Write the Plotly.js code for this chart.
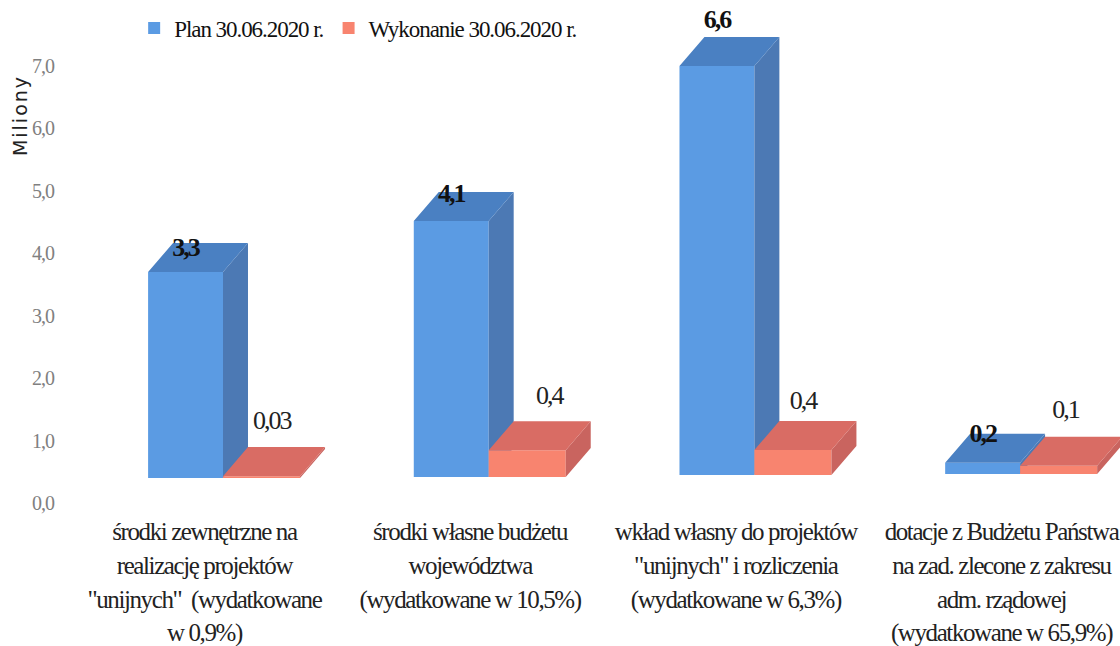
<!DOCTYPE html>
<html><head><meta charset="utf-8">
<script src="https://cdn.plot.ly/plotly-3.0.1.min.js"></script>
<style>html,body{margin:0;padding:0;background:#fff}#c{width:1120px;height:646px}</style>
</head><body><div id="c"></div>
<script>
const categoryLines = [
  ['środki zewnętrzne na','realizację projektów','"unijnych"  (wydatkowane','w 0,9%)'],
  ['środki własne budżetu','województwa','(wydatkowane w 10,5%)'],
  ['wkład własny do projektów','"unijnych" i rozliczenia','(wydatkowane w 6,3%)'],
  ['dotacje z Budżetu Państwa','na zad. zlecone z zakresu','adm. rządowej','(wydatkowane w 65,9%)']
];
const planName = 'Plan 30.06.2020 r.';
const execName = 'Wykonanie 30.06.2020 r.';
const planValues = [3.3, 4.1, 6.55, 0.18];
const execValues = [0.03, 0.43, 0.4, 0.13];
const planLabels = ['3,3','4,1','6,6','0,2'];
const execLabels = ['0,03','0,4','0,4','0,1'];

// Drawing geometry (axis units)
const positions = [0,1,2,3];
const floors = [0.40,0.416,0.449,0.465];
const wPlan = 0.282, wExec = 0.29, dx = 0.094, dy = 0.465;
const tickPos = [-0.07,0.93,1.93,2.93];
const planLift = [-0.10,-0.05,0.25,-0.03];
const execLift = [0.40,0.385,0.29,0.40];
const execShift = [0.038,0.083,0.038,0.026];

const cond = (s,size,ls)=>'<span style="font-size:'+size+'px;letter-spacing:'+ls+'px">'+s+'</span>';

function faces(xL, w, vals){
  const top={x:[],y:[]}, side={x:[],y:[]};
  vals.forEach((v,i)=>{
    const a=xL[i], b=a+w, lo=floors[i], hi=lo+v;
    top.x.push(a,b,b+dx,a+dx,a,null); top.y.push(hi,hi,hi+dy,hi+dy,hi,null);
    side.x.push(b,b+dx,b+dx,b,b,null); side.y.push(lo,lo+dy,hi+dy,hi,lo,null);
  });
  return {top,side};
}
const poly=(p,color,xa,ya)=>({type:'scatter',mode:'lines',x:p.x,y:p.y,fill:'toself',fillcolor:color,
  line:{width:0,color:color},hoverinfo:'skip',showlegend:false,xaxis:xa,yaxis:ya});

const planX = positions.map(p=>p-wPlan);
const pf = faces(planX,wPlan,planValues), ef = faces(positions,wExec,execValues);

const traces = [
  {type:'bar',name:cond(planName,23,-1.05),x:positions,y:planValues,base:floors,width:wPlan,offset:-wPlan,
   marker:{color:'#5B9BE3',line:{width:0}},hoverinfo:'skip',xaxis:'x',yaxis:'y'},
  poly(pf.side,'#4C79B4','x','y'),
  poly(pf.top,'#4A80C2','x','y'),
  {type:'bar',name:cond(execName,23,-1.05),x:positions,y:execValues,base:floors,width:wExec,offset:0,
   marker:{color:'#F8846F',line:{width:0}},hoverinfo:'skip',xaxis:'x2',yaxis:'y2'},
  poly(ef.side,'#C9645F','x2','y2'),
  poly(ef.top,'#D96C64','x2','y2'),
  {type:'scatter',mode:'text',x:planX.map(v=>v+wPlan/2),y:planValues.map((v,i)=>floors[i]+v+dy+planLift[i]),
   text:planLabels.map(s=>cond(s,26,-2)),textposition:'middle center',cliponaxis:false,
   textfont:{family:'Liberation Serif',size:26,color:'#111',weight:700},hoverinfo:'skip',showlegend:false,xaxis:'x2',yaxis:'y2'},
  {type:'scatter',mode:'text',x:positions.map((p,i)=>p+wExec/2+execShift[i]),y:execValues.map((v,i)=>floors[i]+v+dy+execLift[i]),
   text:execLabels.map(s=>cond(s,26,-2)),textposition:'middle center',cliponaxis:false,
   textfont:{family:'Liberation Serif',size:26,color:'#222'},hoverinfo:'skip',showlegend:false,xaxis:'x2',yaxis:'y2'}
];

const xr=[-0.606,3.376], yr=[0,8.057];
const layout = {
  width:1120,height:646,margin:{l:62,r:0,t:0,b:143},
  paper_bgcolor:'#fff',plot_bgcolor:'#fff',barmode:'overlay',separators:', ',
  font:{family:'Liberation Serif',color:'#222'},
  xaxis:{range:xr,showgrid:false,zeroline:false,showline:false,ticks:'',tickmode:'array',
    tickvals:tickPos,
    ticktext:categoryLines.map(l=>l.map(s=>cond(s,25,-1.4)).join('<br>')),
    tickangle:0,tickfont:{family:'Liberation Serif',size:26,color:'#222'},ticklabelstandoff:10,automargin:false},
  yaxis:{range:yr,showgrid:false,zeroline:false,showline:false,ticks:'',tickmode:'array',
    tickvals:[0,1,2,3,4,5,6,7],ticktext:['0,0','1,0','2,0','3,0','4,0','5,0','6,0','7,0'].map(s=>cond(s,20,-1)),
    tickfont:{family:'Liberation Serif',size:20,color:'#808080'},ticklabelstandoff:7,automargin:false},
  xaxis2:{range:xr,overlaying:'x',matches:'x',visible:false},
  yaxis2:{range:yr,overlaying:'y',matches:'y',visible:false},
  legend:{orientation:'h',x:0.0682,y:0.944,xanchor:'left',yanchor:'middle',bgcolor:'rgba(0,0,0,0)',
    font:{family:'Liberation Serif',size:23,color:'#111'},traceorder:'normal',itemclick:false},
  annotations:[{text:cond('Miliony',19,2),textangle:-90,xref:'paper',yref:'paper',x:-0.0398,y:0.771,xanchor:'center',yanchor:'middle',
    showarrow:false,font:{family:'DejaVu Sans',size:19,color:'#222'}}]
};
Plotly.newPlot('c',traces,layout,{displayModeBar:false,staticPlot:true});
</script></body></html>
